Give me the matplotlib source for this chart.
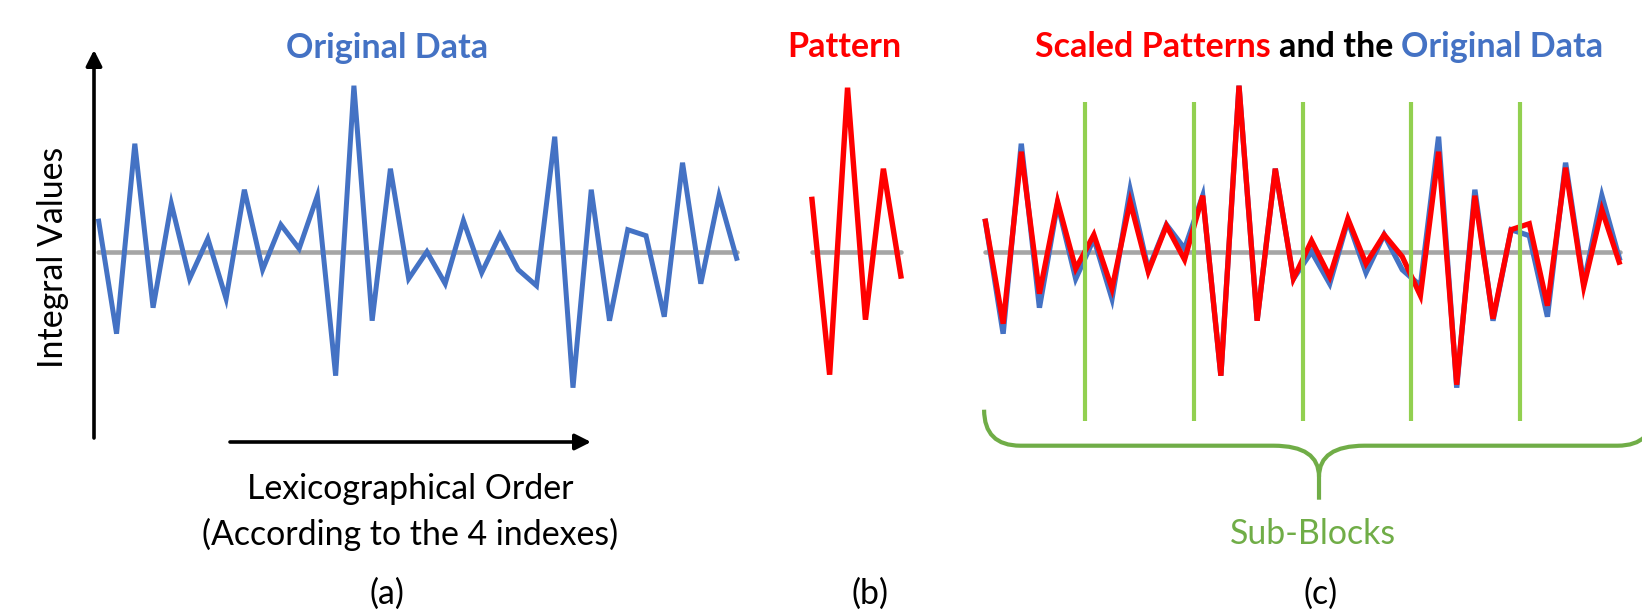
import matplotlib
matplotlib.use("Agg")
import matplotlib.pyplot as plt
from matplotlib.path import Path
from matplotlib.patches import PathPatch, FancyArrowPatch

W, H = 1642, 610

# values (zero line = 0, up is positive)
original = [33, -82, 108, -56, 48, -27, 13, -47, 62, -18, 27, 3,
            56, -124, 166, -69, 83, -27, 0, -32, 31, -21, 17, -18,
            -34, 115, -136, 62, -69, 22, 16, -65, 89, -32, 56, -9]
pattern = [55, -123, 164, -68, 83, -27]
scaled = [33, -72, 100, -42, 50, -17,
          17, -37, 50, -20, 26, -8,
          56, -124, 166, -69, 83, -27,
          11, -25, 33, -12, 17, -5,
          -44, 100, -133, 56, -67, 22,
          28, -54, 84, -35, 42, -13]
block_size = 6

BLUE = "#4472C4"
RED = "#FF0000"
GRAY = "#A5A5A5"
GREEN = "#92D050"
DGREEN = "#70AD47"

plt.rcParams['font.family'] = ['Lato', 'DejaVu Sans']

fig = plt.figure(figsize=(W / 100, H / 100), dpi=100)

BASE = 251.7  # pixel row of the zero line


def panel(x0, x1, n):
    ax = fig.add_axes([x0 / W, 0, (x1 - x0) / W, 1])
    ax.set_xlim(0, n - 1)
    ax.set_ylim(BASE - H, BASE)
    ax.axis('off')
    return ax


def ftext(x, y, s, **kw):
    return fig.text(x / W, 1 - y / H, s, **kw)


def series(ax, values, color, lw=3.6, z=3):
    ax.plot(range(len(values)), values, color=color, lw=lw,
            solid_joinstyle='miter', solid_capstyle='butt', clip_on=False, zorder=z)


def zero_line(ax, n):
    ax.plot([0, n - 1], [0, 0], color=GRAY, lw=3.3, solid_capstyle='round',
            clip_on=False, zorder=1)


# (a) original data
ax_a = panel(98.3, 737.3, len(original))
zero_line(ax_a, len(original))
series(ax_a, original, BLUE)

# (b) pattern
ax_b = panel(811.7, 901.3, len(pattern))
zero_line(ax_b, len(pattern))
series(ax_b, pattern, RED, lw=3.9)

# (c) scaled patterns over original
ax_c = panel(985, 1620, len(original))
zero_line(ax_c, len(original))
series(ax_c, original, BLUE, lw=3.8, z=2)
series(ax_c, scaled, RED, lw=3.8, z=3)
bounds = [k * block_size - 0.5 for k in range(1, len(original) // block_size)]
ax_c.vlines(bounds, -169.3, 150, color=GREEN, lw=3, zorder=5)

# curly brace under the sub-blocks
L, C = -0.05, 18.41
R = 2 * C - L
y_end, y_mid, y_tip0, y_tip1 = -158, -194, -225, -248
verts = [(L, y_end), (L, y_mid), (L + 2, y_mid),
         (C - 2.5, y_mid), (C, y_mid), (C, y_tip0), (C, y_tip1),
         (C, y_tip0), (C, y_mid), (C + 2.5, y_mid),
         (R - 2, y_mid), (R, y_mid), (R, y_end)]
codes = [Path.MOVETO, Path.CURVE3, Path.CURVE3,
         Path.LINETO, Path.CURVE3, Path.CURVE3, Path.LINETO,
         Path.MOVETO, Path.CURVE3, Path.CURVE3,
         Path.LINETO, Path.CURVE3, Path.CURVE3]
ax_c.add_patch(PathPatch(Path(verts, codes), fill=False, edgecolor=DGREEN,
                         lw=3, clip_on=False, capstyle='butt'))

# axis arrows of panel (a)
for start, end in [((94, 438), (94, 50)), ((230, 442), (591, 442))]:
    fig.add_artist(FancyArrowPatch((start[0] / W, 1 - start[1] / H),
                                   (end[0] / W, 1 - end[1] / H),
                                   transform=fig.transFigure,
                                   arrowstyle='-|>,head_length=0.95,head_width=0.48',
                                   mutation_scale=10, lw=2.6, color='black',
                                   shrinkA=0, shrinkB=0))

# texts
TS = 24.5
BS = 24.4
ftext(387, 58, "Original Data", color=BLUE, fontsize=TS, fontweight='bold',
      ha='center', va='baseline')
ftext(844.5, 57, "Pattern", color=RED, fontsize=TS, fontweight='bold',
      ha='center', va='baseline')

pieces = [("Scaled Patterns", RED), ("and the", 'black'), ("Original Data", BLUE)]
r = fig.canvas.get_renderer()


def width(s):
    t = ftext(0, 0, s, fontsize=TS, fontweight='bold')
    w = t.get_window_extent(r).width
    t.remove()
    return w


space = width("a a") - width("aa")
widths = [width(s) for s, _ in pieces]
total = sum(widths) + space * (len(pieces) - 1)
x = 1319 - total / 2
for (s, c), w in zip(pieces, widths):
    ftext(x, 57, s, color=c, fontsize=TS, fontweight='bold', ha='left', va='baseline')
    x += w + space

ftext(62.7, 257.5, "Integral Values", fontsize=BS, rotation=90, rotation_mode='anchor',
      ha='center', va='baseline')
ftext(410, 499, "Lexicographical Order", fontsize=BS, ha='center', va='baseline')
ftext(410, 545, "(According to the 4 indexes)", fontsize=BS, ha='center', va='baseline')
ftext(1313, 544, "Sub-Blocks", color=DGREEN, fontsize=BS, ha='center', va='baseline')
for xc, lab in [(387, "(a)"), (870, "(b)"), (1321, "(c)")]:
    ftext(xc, 604, lab, fontsize=BS, ha='center', va='baseline')

fig.savefig("out.png", dpi=100)
